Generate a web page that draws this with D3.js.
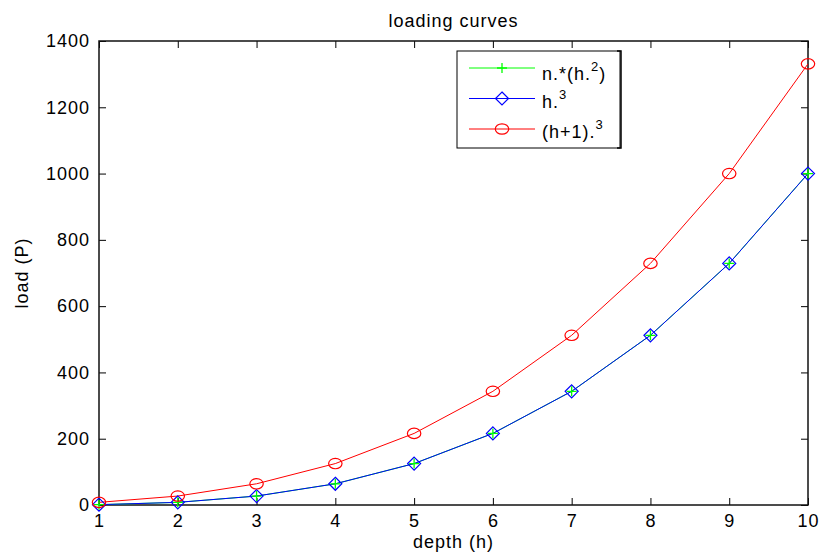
<!DOCTYPE html>
<html>
<head>
<meta charset="utf-8">
<script src="https://cdn.jsdelivr.net/npm/d3@7"></script>
<style>
  body { margin: 0; background: #fff; }
  svg text { font-family: "Liberation Sans", Arial, sans-serif; fill: #000; }
  .tick text { font-size: 18px; letter-spacing: 1px; }
  .domain { display: none; }
  .tick line { stroke: #000; stroke-width: 1; }
</style>
</head>
<body>
<div id="svg-container"></div>
<script>
// data
const depth = [1, 2, 3, 4, 5, 6, 7, 8, 9, 10];
const nh2 = [1, 8, 27, 64, 125, 216, 343, 512, 729, 1000];
const h3 = [1, 8, 27, 64, 125, 216, 343, 512, 729, 1000];
const h1cube = [8, 27, 64, 125, 216, 343, 512, 729, 1000, 1331];
const yTicks = [0, 200, 400, 600, 800, 1000, 1200, 1400];
const seriesNames = ["n.*(h.", "h.", "(h+1)."];
const seriesSup = ["2", "3", "3"];
const seriesTail = [")", "", ""];

const width = 819, height = 553;
const margin = { top: 41, right: 11, bottom: 48, left: 99 };

const svg = d3.select("#svg-container").append("svg")
    .attr("width", width).attr("height", height);

const xScale = d3.scaleLinear().domain([1, 10]).range([margin.left, width - margin.right]);
const yScale = d3.scaleLinear().domain([0, 1400]).range([height - margin.bottom, margin.top]);

const x0 = xScale.range()[0], x1 = xScale.range()[1];
const y0 = yScale.range()[0], y1 = yScale.range()[1];
const fmt = d3.format("d");

// axes (ticks inward, matlab style)
svg.append("g").attr("transform", `translate(0,${y0})`)
    .call(d3.axisBottom(xScale).tickValues(depth).tickFormat(fmt)
        .tickSizeInner(-7).tickSizeOuter(0).tickPadding(9));
svg.append("g").attr("transform", `translate(0,${y1})`)
    .call(d3.axisTop(xScale).tickValues(depth).tickSizeInner(-7).tickSizeOuter(0).tickFormat(""));
svg.append("g").attr("transform", `translate(${x0},0)`)
    .call(d3.axisLeft(yScale).tickValues(yTicks).tickFormat(fmt)
        .tickSizeInner(-7).tickSizeOuter(0).tickPadding(9));
svg.append("g").attr("transform", `translate(${x1},0)`)
    .call(d3.axisRight(yScale).tickValues(yTicks).tickSizeInner(-7).tickSizeOuter(0).tickFormat(""));

// box
svg.append("rect")
    .attr("x", x0).attr("y", y1)
    .attr("width", x1 - x0).attr("height", y0 - y1)
    .attr("fill", "none").attr("stroke", "#111").attr("stroke-width", 1.5);

// lines
const line = d3.line().x((d, i) => xScale(depth[i])).y((d) => yScale(d));
const series = [
    { values: nh2, color: "#00ff00", marker: "plus" },
    { values: h3, color: "#0000ff", marker: "diamond" },
    { values: h1cube, color: "#ff0000", marker: "circle" }
];

const plot = svg.append("g");
series.forEach((s) => {
    plot.append("path").attr("d", line(s.values))
        .attr("fill", "none").attr("stroke", s.color).attr("stroke-width", 1);
});

function drawMarker(g, type, cx, cy, color) {
    if (type === "plus") {
        g.append("path")
            .attr("d", `M${cx - 5},${cy}H${cx + 5}M${cx},${cy - 5}V${cy + 5}`)
            .attr("stroke", color).attr("stroke-width", 1.3).attr("fill", "none");
    } else if (type === "diamond") {
        g.append("path")
            .attr("d", `M${cx},${cy - 6.5}L${cx + 6.5},${cy}L${cx},${cy + 6.5}L${cx - 6.5},${cy}Z`)
            .attr("stroke", color).attr("stroke-width", 1.2).attr("fill", "none");
    } else {
        g.append("ellipse")
            .attr("cx", cx).attr("cy", cy).attr("rx", 6.7).attr("ry", 5.2)
            .attr("stroke", color).attr("stroke-width", 1.2).attr("fill", "none");
    }
}

// markers: diamonds, then pluses over them, then circles
[1, 0, 2].forEach((k) => {
    const s = series[k];
    s.values.forEach((v, i) => drawMarker(plot, s.marker, xScale(depth[i]), yScale(v), s.color));
});

// title and labels
const textStyle = (t) => t.attr("font-size", 18).attr("letter-spacing", 1);
svg.append("text").attr("x", (x0 + x1) / 2).attr("y", 27)
    .attr("text-anchor", "middle").text("loading curves").call(textStyle);
svg.append("text").attr("x", (x0 + x1) / 2).attr("y", 548)
    .attr("text-anchor", "middle").text("depth (h)").call(textStyle);
svg.append("text").attr("transform", `translate(28,${(y0 + y1) / 2}) rotate(-90)`)
    .attr("text-anchor", "middle").text("load (P)").call(textStyle);

// legend
const lx = 457, ly = 51, lw = 163, lh = 97;
const legend = svg.append("g");
legend.append("rect").attr("x", lx).attr("y", ly).attr("width", lw).attr("height", lh)
    .attr("fill", "#fff").attr("stroke", "#000").attr("stroke-width", 1);
// matlab corner artifacts on right side
legend.append("path")
    .attr("d", `M${lx + lw - 3},${ly}H${lx + lw + 1}V${ly + lh}H${lx + lw - 3}`)
    .attr("fill", "none").attr("stroke", "#000").attr("stroke-width", 1.5);

series.forEach((s, i) => {
    const ry = ly + 17 + i * 30.5;
    legend.append("line").attr("x1", lx + 12).attr("x2", lx + 78)
        .attr("y1", ry).attr("y2", ry).attr("stroke", s.color).attr("stroke-width", 1);
    drawMarker(legend, s.marker, lx + 45, ry, s.color);
    const t = legend.append("text").attr("x", lx + 85).attr("y", ry + (i === 0 ? 12 : 9))
        .attr("font-size", 18).attr("letter-spacing", 1);
    t.append("tspan").text(seriesNames[i]);
    t.append("tspan").attr("dy", -9).attr("font-size", 13).text(seriesSup[i]);
    if (seriesTail[i]) t.append("tspan").attr("dy", 9).text(seriesTail[i]);
});
</script>
</body>
</html>
